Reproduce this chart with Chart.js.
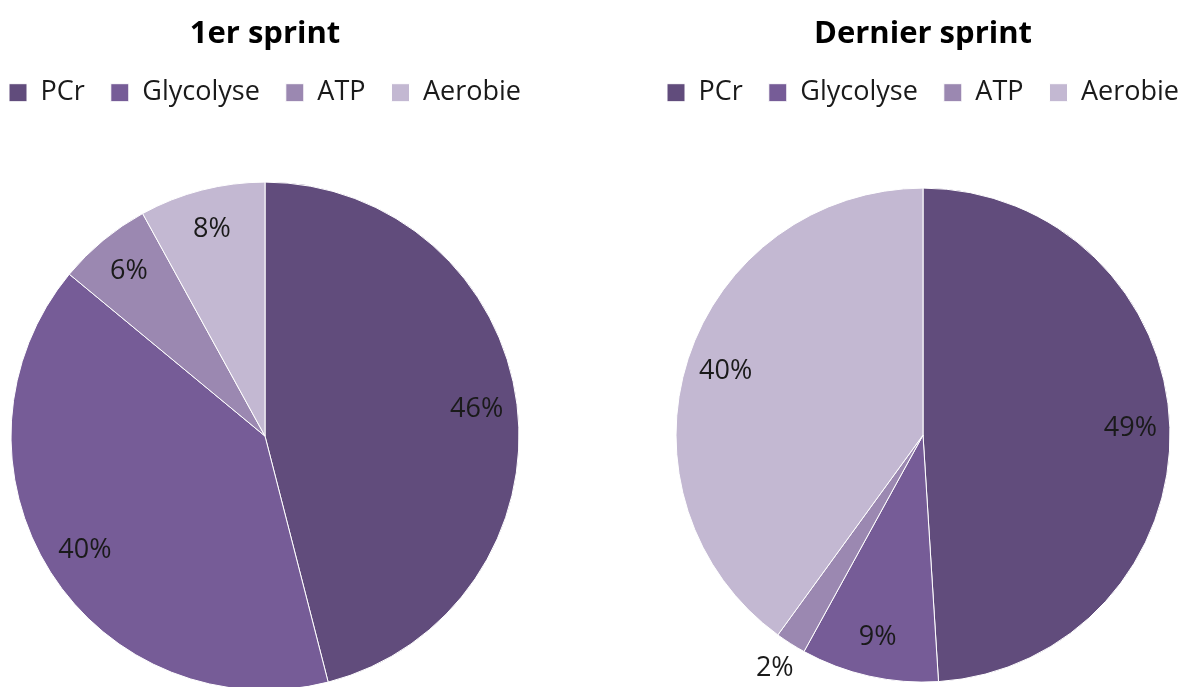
<!DOCTYPE html>
<html>
<head>
<meta charset="utf-8">
<script src="https://cdn.jsdelivr.net/npm/chart.js@4/dist/chart.umd.min.js"></script>
<style>
  html, body { margin: 0; padding: 0; background: #fff; overflow: hidden; }
  body { width: 1183px; height: 687px; position: relative; }
  .box { position: absolute; top: 0; }
  #left { left: -30px; width: 590px; height: 756px; }
  #right { left: 628px; width: 590px; height: 754px; }
</style>
</head>
<body>
<div class="box" id="left"><canvas id="chartFirst"></canvas></div>
<div class="box" id="right"><canvas id="chartLast"></canvas></div>
<script>
const labels = ['PCr', 'Glycolyse', 'ATP', 'Aerobie'];
const firstSprint = [46, 40, 6, 8];
const lastSprint = [49, 9, 2, 40];
const colors = ['#614c7c', '#765c97', '#9b88b1', '#c3b8d2'];

const fontFamily = '"Open Sans", sans-serif';

// draws the % inside each slice (outside for the tiny ones)
const pctLabels = {
  id: 'pctLabels',
  afterDatasetsDraw(chart) {
    const ctx = chart.ctx;
    const meta = chart.getDatasetMeta(0);
    const values = chart.data.datasets[0].data;
    ctx.save();
    ctx.font = '27px ' + fontFamily;
    ctx.fillStyle = '#1a1a1a';
    ctx.textAlign = 'center';
    ctx.textBaseline = 'middle';
    meta.data.forEach((arc, i) => {
      const p = arc.getProps(['x', 'y', 'startAngle', 'endAngle', 'outerRadius']);
      const mid = (p.startAngle + p.endAngle) / 2;
      const r = values[i] < 5 ? p.outerRadius * 1.12 : p.outerRadius * 0.84;
      ctx.fillText(values[i] + '%', p.x + Math.cos(mid) * r, p.y + Math.sin(mid) * r);
    });
    ctx.restore();
  }
};

function makeConfig(title, values, radius) {
  return {
    type: 'pie',
    data: {
      labels: labels,
      datasets: [{
        data: values,
        backgroundColor: colors,
        borderColor: '#ffffff',
        borderWidth: 1,
      }],
    },
    options: {
      responsive: true,
      maintainAspectRatio: false,
      animation: false,
      radius: radius,
      layout: { padding: 0 },
      plugins: {
        title: {
          display: true,
          text: title,
          color: '#000',
          font: { family: fontFamily, size: 31, weight: 'bold' },
          padding: { top: 16, bottom: 0 },
        },
        legend: {
          position: 'top',
          labels: {
            color: '#1a1a1a',
            font: { family: fontFamily, size: 27 },
            boxWidth: 18,
            boxHeight: 18,
            padding: 26,
          },
        },
        tooltip: { enabled: false },
      },
    },
    plugins: [pctLabels],
  };
}

const chartFirst = new Chart(document.getElementById('chartFirst'), makeConfig('1er sprint', firstSprint, 254));
const chartLast = new Chart(document.getElementById('chartLast'), makeConfig('Dernier sprint', lastSprint, 247));
</script>
</body>
</html>
